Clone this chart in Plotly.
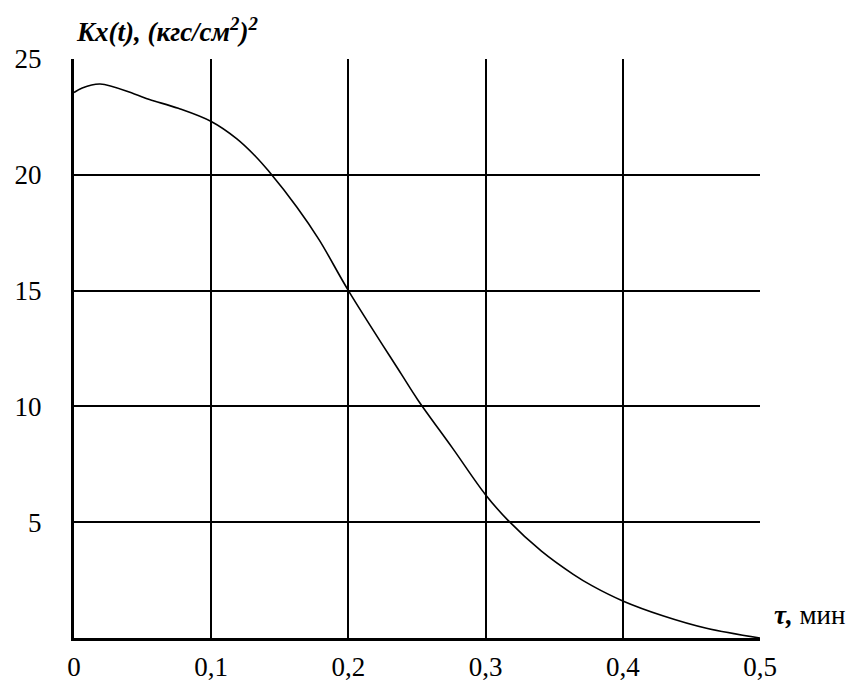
import plotly.graph_objects as go

# Correlation function K_x(τ) of the pressure signal
tau = [0.0, 0.006, 0.019, 0.044, 0.055, 0.076, 0.100, 0.1185, 0.1324, 0.1417,
       0.1625, 0.1787, 0.200, 0.2387, 0.2505, 0.2759, 0.2998, 0.316, 0.3407,
       0.3639, 0.3778, 0.400, 0.4297, 0.461, 0.500]
kx = [23.55, 23.75, 23.92, 23.49, 23.25, 22.87, 22.30, 21.56, 20.79, 20.17,
      18.60, 17.19, 15.00, 11.38, 10.29, 8.20, 6.20, 5.10, 3.75,
      2.75, 2.25, 1.60, 0.95, 0.42, 0.00]

x_ticks = [0, 0.1, 0.2, 0.3, 0.4, 0.5]
x_tick_text = ["0", "0,1", "0,2", "0,3", "0,4", "0,5"]
y_ticks = [5, 10, 15, 20, 25]
y_tick_text = ["5", "10", "15", "20", "25"]

FONT = "Liberation Serif"

fig = go.Figure()
fig.add_trace(go.Scatter(
    x=tau, y=kx, mode="lines",
    line=dict(color="black", width=1.6, shape="spline", smoothing=1.0),
    hoverinfo="skip", showlegend=False,
))

fig.update_layout(
    width=857, height=684,
    margin=dict(l=74, r=97, t=59, b=46),
    paper_bgcolor="white", plot_bgcolor="white",
    font=dict(family=FONT, size=27, color="black"),
    xaxis=dict(
        range=[0, 0.5], tickvals=x_ticks, ticktext=x_tick_text,
        showgrid=True, gridcolor="black", gridwidth=2,
        showline=True, linecolor="black", linewidth=3,
        zeroline=False, ticks="", ticklabelstandoff=3, automargin=False,
        tickfont=dict(family=FONT, size=27, color="black"),
    ),
    yaxis=dict(
        range=[0, 25], tickvals=y_ticks, ticktext=y_tick_text,
        showgrid=True, gridcolor="black", gridwidth=2,
        showline=True, linecolor="black", linewidth=3,
        zeroline=False, ticks="", ticklabelstandoff=24, automargin=False,
        tickfont=dict(family=FONT, size=27, color="black"),
    ),
    annotations=[
        dict(text="<b><i>Kx(t), (кгс/см<sup>2</sup>)<sup>2</sup></i></b>",
             xref="paper", yref="paper", x=0, y=1, xanchor="left",
             yanchor="bottom", yshift=10, showarrow=False,
             font=dict(family=FONT, size=27, color="black")),
        dict(text="<b><i>τ,</i></b> мин",
             xref="x", yref="y", x=0.5, y=1.0, xanchor="left",
             yanchor="middle", xshift=12, showarrow=False,
             font=dict(family=FONT, size=27, color="black")),
    ],
)

fig.write_html("out.html")
